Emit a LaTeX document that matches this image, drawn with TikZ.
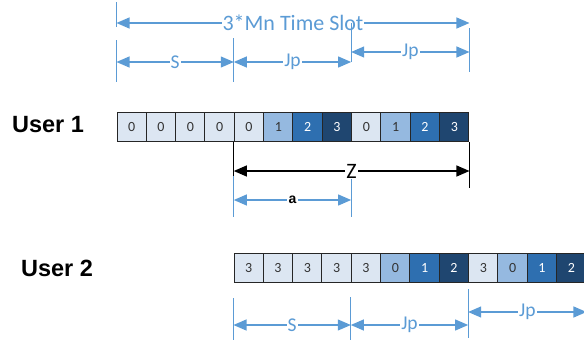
\documentclass[tikz,border=0pt]{standalone}
\usepackage{fontspec}
\setmainfont{Carlito}
\newfontfamily\userfont{Liberation Sans}
\usetikzlibrary{arrows.meta}
\definecolor{slotlt}{HTML}{DCE6F2}
\definecolor{slotmd}{HTML}{95B9E0}
\definecolor{slotbl}{HTML}{2E6FB0}
\definecolor{slotdk}{HTML}{1F4670}
\definecolor{dimblue}{HTML}{5B9BD5}
\definecolor{celltext}{HTML}{333333}
\def\cellw{29.33}
\def\cellh{29}

\begin{document}
\begin{tikzpicture}[x=1pt, y=-1pt,
		cell/.style={draw=black!85, line width=1pt, minimum width=\cellw pt,
			minimum height=\cellh pt, inner sep=0pt, font=\fontsize{14}{14}\selectfont},
		lt/.style={fill=slotlt, text=celltext},
		md/.style={fill=slotmd, text=celltext},
		bl/.style={fill=slotbl, text=white},
		dk/.style={fill=slotdk, text=white},
		dim/.style={draw=dimblue, line width=1.1pt, {Triangle[length=13pt,width=11pt]}-{Triangle[length=13pt,width=11pt]}},
		blackdim/.style={draw=black, line width=1.1pt, {Triangle[length=13pt,width=11pt]}-{Triangle[length=13pt,width=11pt]}},
		tick/.style={draw=dimblue, line width=1.1pt},
		blacktick/.style={draw=black, line width=1.1pt},
		lbl/.style={fill=white, inner sep=1pt, text=dimblue, font=\fontsize{19.5}{19.5}\selectfont},
		user/.style={font=\userfont\bfseries\fontsize{23.5}{23.5}\selectfont}]
	\useasboundingbox (0,0) rectangle (584,343);

	% slot rows
	\foreach \v/\s [count=\i] in {0/lt,0/lt,0/lt,0/lt,0/lt,1/md,2/bl,3/dk,0/lt,1/md,2/bl,3/dk}
		\node[cell, \s] (ua\i) at ({117+(\i-0.5)*\cellw},127) {\v};
	\foreach \v/\s [count=\i] in {3/lt,3/lt,3/lt,3/lt,3/lt,0/md,1/bl,2/dk,3/lt,0/md,1/bl,2/dk}
		\node[cell, \s] (ub\i) at ({234+(\i-0.5)*\cellw},268) {\v};

	\node[user] (user1) at (48,125) {User 1};
	\node[user] (user2) at (57,268) {User 2};

	% dimensions above user 1
	\draw[tick] (ua1.west |- 0,2) -- (ua1.west |- 0,27);
	\draw[tick] (ua1.west |- 0,40) -- (ua1.west |- 0,82);
	\draw[tick] (ua5.west |- 0,38) -- (ua5.west |- 0,82);
	\draw[tick] (ua12.east |- 0,28) -- (ua12.east |- 0,72);
	\draw[dim] (ua1.west |- 0,23) -- node[lbl, font=\fontsize{22}{22}\selectfont] (total) {3*Mn Time Slot} (ua12.east |- 0,23);
	\draw[tick] (ua9.west |- 0,23) -- (ua9.west |- 0,62);
	\draw[dim] (ua1.west |- 0,62) -- node[lbl] (s1) {S} (ua5.west |- 0,62);
	\draw[dim] (ua5.west |- 0,62) -- node[lbl] (jp1) {Jp} (ua9.west |- 0,62);
	\draw[dim] (ua9.west |- 0,52) -- node[lbl] (jp2) {Jp} (ua12.east |- 0,52);

	% offsets below user 1
	\draw[blacktick] (ua5.south west) -- (ua5.west |- 0,176);
	\draw[tick] (ua5.west |- 0,176) -- (ua5.west |- 0,217);
	\draw[blacktick] (ua12.south east) -- (ua12.east |- 0,188);
	\draw[tick] (ua9.west |- 0,172) -- (ua9.west |- 0,217);
	\draw[blackdim] (ua5.west |- 0,171) -- node[fill=white, inner sep=1pt, font=\fontsize{22}{22}\selectfont] (z) {Z} (ua12.east |- 0,171);
	\draw[dim] (ua5.west |- 0,200) -- node[fill=white, inner sep=1.5pt, font=\userfont\bfseries\fontsize{14}{14}\selectfont] (a) {a} (ua9.west |- 0,200);

	% dimensions below user 2
	\draw[tick] (ub1.west |- 0,298) -- (ub1.west |- 0,340);
	\draw[tick] (ub5.west |- 0,297) -- (ub5.west |- 0,340);
	\draw[tick] (ub9.west |- 0,289) -- (ub9.west |- 0,338);
	\draw[dim] (ub1.west |- 0,325) -- node[lbl] (s2) {S} (ub5.west |- 0,325);
	\draw[dim] (ub5.west |- 0,325) -- node[lbl] (jp3) {Jp} (ub9.west |- 0,325);
	\draw[dim] (ub9.west |- 0,312) -- node[lbl] (jp4) {Jp} (ub12.east |- 0,312);
\end{tikzpicture}
\end{document}
